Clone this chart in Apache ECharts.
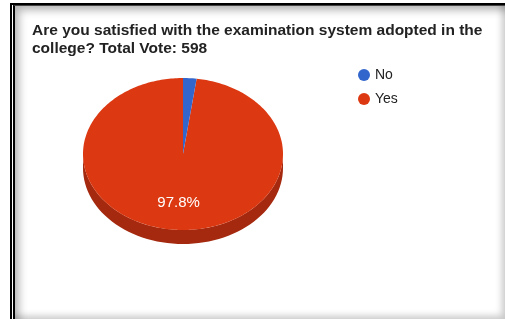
<!doctype html>
<html lang="en">
<head>
    <meta charset="UTF-8">
    <title>Examination system vote</title>
    <script src="https://cdn.jsdelivr.net/npm/echarts@6/dist/echarts.min.js"></script>
    <style>
        html, body { margin: 0; padding: 0; background: #fff; }
        #wrap { position: relative; width: 505px; height: 319px; overflow: hidden; }
        #line1 { position: absolute; left: 10px; top: 3px; width: 500px; height: 320px;
                 border-left: 2px solid #000; border-top: 2px solid #000; }
        #line2 { position: absolute; left: 13px; top: 5px; width: 500px; height: 320px;
                 border-left: 2px solid #000; border-top: 1px solid #444; }
        #shade { position: absolute; left: 15px; top: 6px; width: 490px; height: 313px;
                 box-shadow: inset 7px 7px 8px -3px rgba(0,0,0,0.3),
                             inset -6px -6px 7px -3px rgba(0,0,0,0.22); }
        #main { position: absolute; left: 0; top: 0; width: 505px; height: 319px; }
    </style>
</head>
<body>
<div id="wrap">
    <div id="line1"></div>
    <div id="line2"></div>
    <div id="shade"></div>
    <div id="main"></div>
</div>
<script>
    // answers and vote counts (total 598)
    var answers = ['No', 'Yes'];
    var votes = [13, 585];

    var total = votes.reduce(function (a, b) { return a + b; }, 0);

    // pie geometry (ellipse to look like a tilted 3d pie)
    var cx = 183, cy = 154, rx = 100, ry = 76, depth = 14;

    function pt(a, dy) {
        return [cx + rx * Math.sin(a), cy - ry * Math.cos(a) + (dy || 0)];
    }

    function makeRender(idx, topColor, sideColor) {
        return function (params, api) {
            var before = 0;
            for (var k = 0; k < idx; k++) before += votes[k];
            var v = api.value(0);
            var a0 = before / total * Math.PI * 2;
            var a1 = (before + v) / total * Math.PI * 2;
            var children = [];

            // front side wall (only the part facing the viewer)
            var s0 = Math.max(a0, Math.PI / 2), s1 = Math.min(a1, Math.PI * 1.5);
            if (s1 > s0) {
                var wall = [], n = 60, j;
                for (j = 0; j <= n; j++) wall.push(pt(s0 + (s1 - s0) * j / n, 0));
                for (j = n; j >= 0; j--) wall.push(pt(s0 + (s1 - s0) * j / n, depth));
                children.push({ type: 'polygon', shape: { points: wall }, style: { fill: sideColor } });
            }

            // top face
            var face = [[cx, cy]], steps = Math.max(2, Math.ceil((a1 - a0) / 0.02));
            for (var i = 0; i <= steps; i++) face.push(pt(a0 + (a1 - a0) * i / steps, 0));
            children.push({ type: 'polygon', shape: { points: face }, style: { fill: topColor } });

            var pct = v / total * 100;
            if (pct > 5) {
                var mid = (a0 + a1) / 2;
                children.push({
                    type: 'text',
                    x: cx + rx * 0.65 * Math.sin(mid),
                    y: cy - ry * 0.65 * Math.cos(mid),
                    style: {
                        text: pct.toFixed(1) + '%',
                        fill: '#fff',
                        font: '15px Arial, "Liberation Sans", sans-serif',
                        align: 'center',
                        verticalAlign: 'middle'
                    }
                });
            }
            return { type: 'group', children: children };
        };
    }

    var myChart = echarts.init(document.getElementById('main'), null, { renderer: 'canvas' });

    var option = {
        animation: false,
        backgroundColor: 'transparent',
        title: {
            text: 'Are you satisfied with the examination system adopted in the\ncollege? Total Vote: ' + total,
            left: 32,
            top: 22,
            padding: 0,
            textStyle: {
                fontFamily: 'Arial, "Liberation Sans", sans-serif',
                fontSize: 15.5,
                fontWeight: 'bold',
                lineHeight: 18,
                color: '#222'
            }
        },
        legend: {
            data: answers,
            orient: 'vertical',
            left: 358,
            top: 68,
            padding: 0,
            icon: 'circle',
            itemWidth: 12,
            itemHeight: 12,
            itemGap: 10,
            textStyle: {
                fontFamily: 'Arial, "Liberation Sans", sans-serif',
                fontSize: 14,
                color: '#222'
            }
        },
        series: [
            {
                name: answers[1],
                type: 'custom',
                coordinateSystem: 'none',
                itemStyle: { color: '#dc3912' },
                data: [[votes[1]]],
                renderItem: makeRender(1, '#dc3912', '#a5290e')
            },
            {
                name: answers[0],
                type: 'custom',
                coordinateSystem: 'none',
                itemStyle: { color: '#3366cc' },
                data: [[votes[0]]],
                renderItem: makeRender(0, '#3366cc', '#264d99')
            }
        ]
    };

    myChart.setOption(option);
</script>
</body>
</html>
